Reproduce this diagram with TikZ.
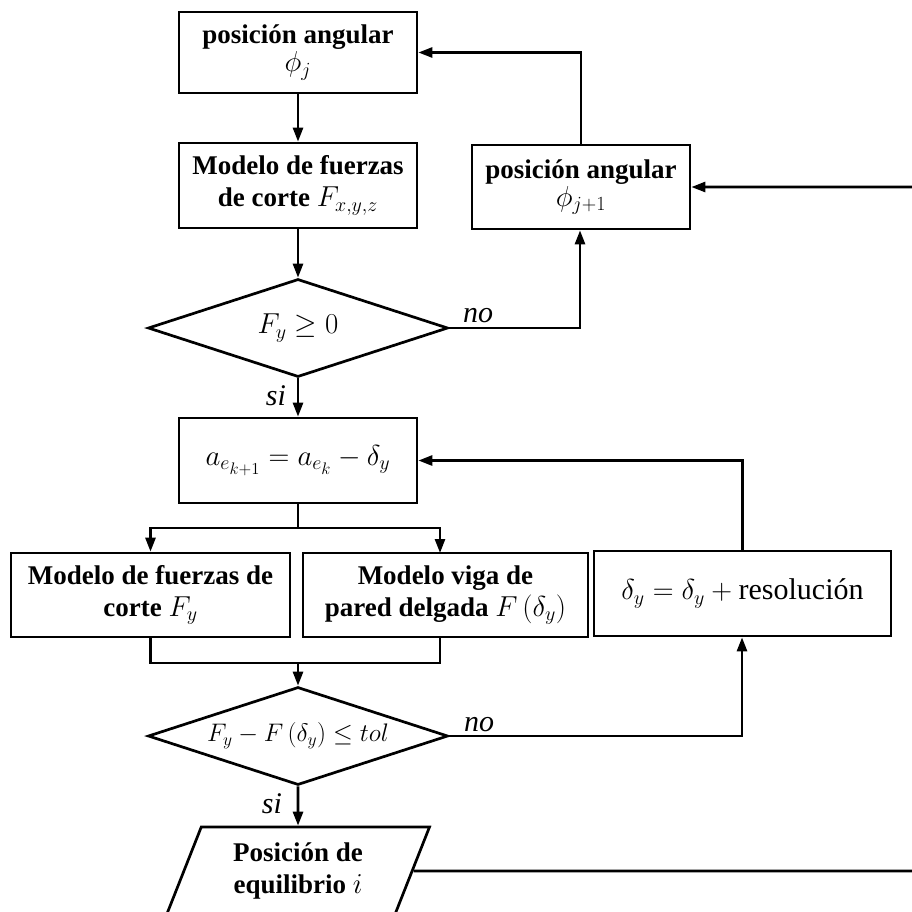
\documentclass[tikz,border=0pt]{standalone}
\usepackage{fontspec}
\setmainfont{Liberation Serif}
\usetikzlibrary{arrows.meta,shapes.geometric}
% formulas are set a little larger than the surrounding text
\newcommand\bigmath[1]{\scalebox{1.16}{$#1$}}
\begin{document}
\begin{tikzpicture}[x=1pt,y=-1pt,
  every node/.style={font=\fontsize{27}{32}\selectfont},
  procbox/.style={draw,line width=2.7pt,rectangle,align=center,inner sep=2pt},
  decision/.style={draw,line width=2.7pt,diamond,aspect=3,inner sep=0pt,
    minimum width=300pt,minimum height=98pt},
  iobox/.style={draw,line width=2.7pt,trapezium,trapezium left angle=58.4,
    trapezium right angle=121.6,trapezium stretches body,align=center,
    minimum width=263pt,minimum height=88pt,inner sep=0pt},
  flow/.style={line width=2.7pt,-{Triangle[length=14pt,width=10pt]}},
  plain/.style={line width=2.7pt},
  lbl/.style={font=\fontsize{30}{32}\selectfont\itshape,inner sep=0pt,anchor=base}]
\useasboundingbox (0,0) rectangle (912,911);
\clip (0,0) rectangle (912,911);

% main column
\node[procbox,minimum width=238pt,minimum height=81pt] (ang) at (298,52.5)
  {\textbf{posición angular}\\[-4pt] \bigmath{\phi_j}};
\node[procbox,minimum width=238pt,minimum height=85pt] (fxyz) at (298,185.5)
  {\textbf{Modelo de fuerzas}\\ \textbf{de corte} \bigmath{F_{x,y,z}}};
\node[decision] (cond1) at (298,328) {\bigmath{F_y\geq 0}};
\node[procbox,minimum width=238pt,minimum height=85pt] (upd) at (298,460.5)
  {\bigmath{a_{e_{k+1}}=a_{e_k}-\delta_y}};
\node[procbox,minimum width=279pt,minimum height=84pt] (fy) at (150.5,595)
  {\textbf{Modelo de fuerzas de}\\ \textbf{corte} \bigmath{F_y}};
\node[procbox,minimum width=285pt,minimum height=84pt] (viga) at (445.5,595)
  {\textbf{Modelo viga de}\\ \textbf{pared delgada} \bigmath{F\left(\delta_y\right)}};
\node[decision] (cond2) at (298,736)
  {\scalebox{1.02}{$F_y-F\left(\delta_y\right)\leq tol$}};
\node[iobox] (eq) at (298,871)
  {\textbf{Posición de}\\ \textbf{equilibrio} \bigmath{i}};

% side column
\node[procbox,minimum width=218pt,minimum height=84pt] (angn) at (581,187)
  {\textbf{posición angular}\\[-4pt] \bigmath{\phi_{j+1}}};
\node[procbox,minimum width=297pt,minimum height=85pt] (res) at (742.5,593.5)
  {\bigmath{\delta_y=\delta_y+{}}{\fontsize{30}{32}\selectfont resolución}};

\coordinate (split) at (298,528);
\coordinate (merge) at (298,663);
\coordinate (turn1) at (580,328);
\coordinate (turn2) at (742,736);
\coordinate (outr) at (940,871);

% connectors
\draw[flow] (ang) -- (fxyz);
\draw[flow] (fxyz) -- (cond1);
\draw[flow] (cond1.east) -- (turn1) -- (turn1 |- angn.south);
\node[lbl] (no1) at (478,322) {no};
\draw[flow] (angn.north) |- (ang.east);
\draw[flow] (cond1.south) -- (upd.north);
\node[lbl] (si1) at (276,405) {si};
\draw[plain] (upd.south) -- (split);
\draw[flow] (split) -| (fy.north);
\draw[flow] (split) -| (440,553);
\draw[plain] (fy.south) |- (merge) -| (440,637);
\draw[flow] (merge) -- (cond2.north);
\draw[flow] (cond2.east) -- (turn2) -- (turn2 |- res.south);
\node[lbl] (no2) at (479,731) {no};
\draw[flow] (res.north) |- (upd.east);
\draw[flow] (cond2.south) -- (eq.north);
\node[lbl] (si2) at (272,813) {si};
\draw[flow] (eq.east) -- (outr) |- (angn.east);
\end{tikzpicture}
\end{document}
